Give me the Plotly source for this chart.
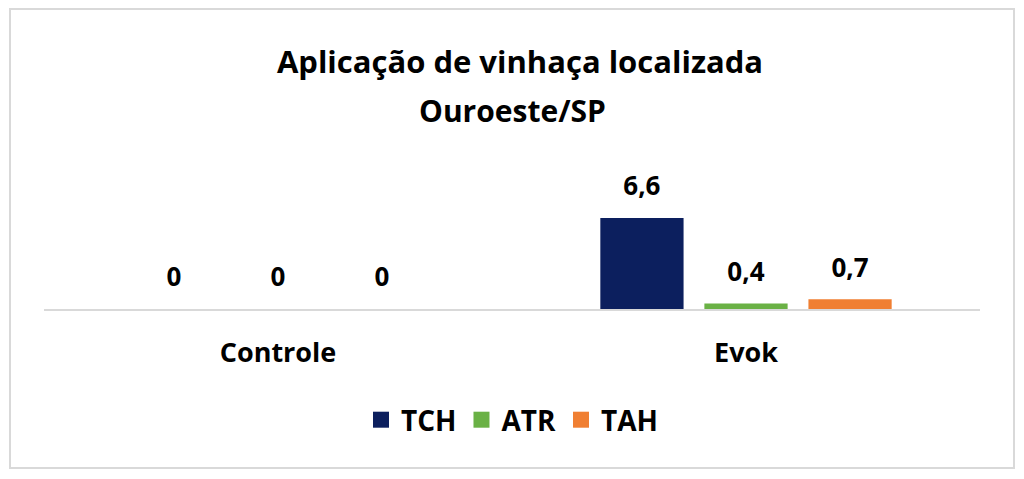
import plotly.graph_objects as go

categories = ["Controle", "Evok"]
series_names = ["TCH", "ATR", "TAH"]
tch = [0, 6.6]
atr = [0, 0.4]
tah = [0, 0.7]
colors = ["#0C1F5E", "#6AB145", "#F07F32"]

FONT = "Open Sans"
OFF = 8  # page body margin

PL, PR, PT, PB = 44 - OFF, 980 - OFF, 150 - OFF, 309 - OFF
PW, PH = PR - PL, PB - PT

def fmt(v):
    s = f"{v:g}"
    return s.replace(".", ",")

fig = go.Figure()
for name, vals, col in zip(series_names, [tch, atr, tah], colors):
    fig.add_trace(go.Bar(
        name=name, x=categories, y=vals,
        marker=dict(color=col, line=dict(width=0)),
        text=[fmt(v) for v in vals],
        texttemplate="<span style='font-size:26px'>%{text}</span><br>&nbsp;",
        textposition="outside",
        textfont=dict(family=FONT, size=12, color="#000000", weight="bold"),
        cliponaxis=False,
        hoverinfo="skip",
        showlegend=False,
        legendgroup=name,
    ))
    # legend entry with a larger square swatch
    fig.add_trace(go.Scatter(
        name=name, x=[None], y=[None], mode="markers",
        marker=dict(symbol="square", size=16, color=col),
        legendgroup=name, showlegend=True, hoverinfo="skip",
    ))

fig.update_layout(
    width=1024, height=479,
    barmode="group", bargap=0.333, bargroupgap=0.2,
    paper_bgcolor="white", plot_bgcolor="white",
    margin=dict(l=PL, r=1024 - PR, t=PT, b=479 - PB, autoexpand=False),
    font=dict(family=FONT, color="#000000"),
    title=dict(
        text="Aplicação de vinhaça localizada",
        x=0.5, xanchor="center", xref="container",
        y=1 - (62 - OFF) / 479, yanchor="middle", yref="container",
        font=dict(family=FONT, size=31, color="#000000", weight="bold"),
    ),
    annotations=[dict(
        text="Ouroeste/SP", x=0.5, xref="paper", y=(309 - 110) / PH, yref="paper",
        xanchor="center", yanchor="middle", showarrow=False,
        font=dict(family=FONT, size=30, color="#000000", weight="bold"),
    )],
    showlegend=True,
    legend=dict(
        orientation="h", x=0.5, xanchor="center", y=(309 - 420) / PH, yanchor="middle",
        font=dict(family=FONT, size=28, color="#000000", weight="bold"),
        itemclick=False, itemdoubleclick=False, itemwidth=30,
    ),
    xaxis=dict(
        showline=True, linecolor="#D9D9D9", linewidth=2, ticks="",
        showgrid=False, zeroline=False,
        tickfont=dict(family=FONT, size=27, color="#000000", weight="bold"),
        ticklabelstandoff=19,
    ),
    yaxis=dict(
        range=[0, PH / (91 / 6.6)], visible=False, showgrid=False, zeroline=False,
    ),
    shapes=[dict(
        type="rect", xref="paper", yref="paper",
        x0=(10 - 44) / PW, x1=(1014 - 44) / PW,
        y0=(309 - 468) / PH, y1=(309 - 9) / PH,
        line=dict(color="#D9D9D9", width=2), fillcolor="rgba(0,0,0,0)", layer="below",
    )],
)

fig.write_html("out.html")
